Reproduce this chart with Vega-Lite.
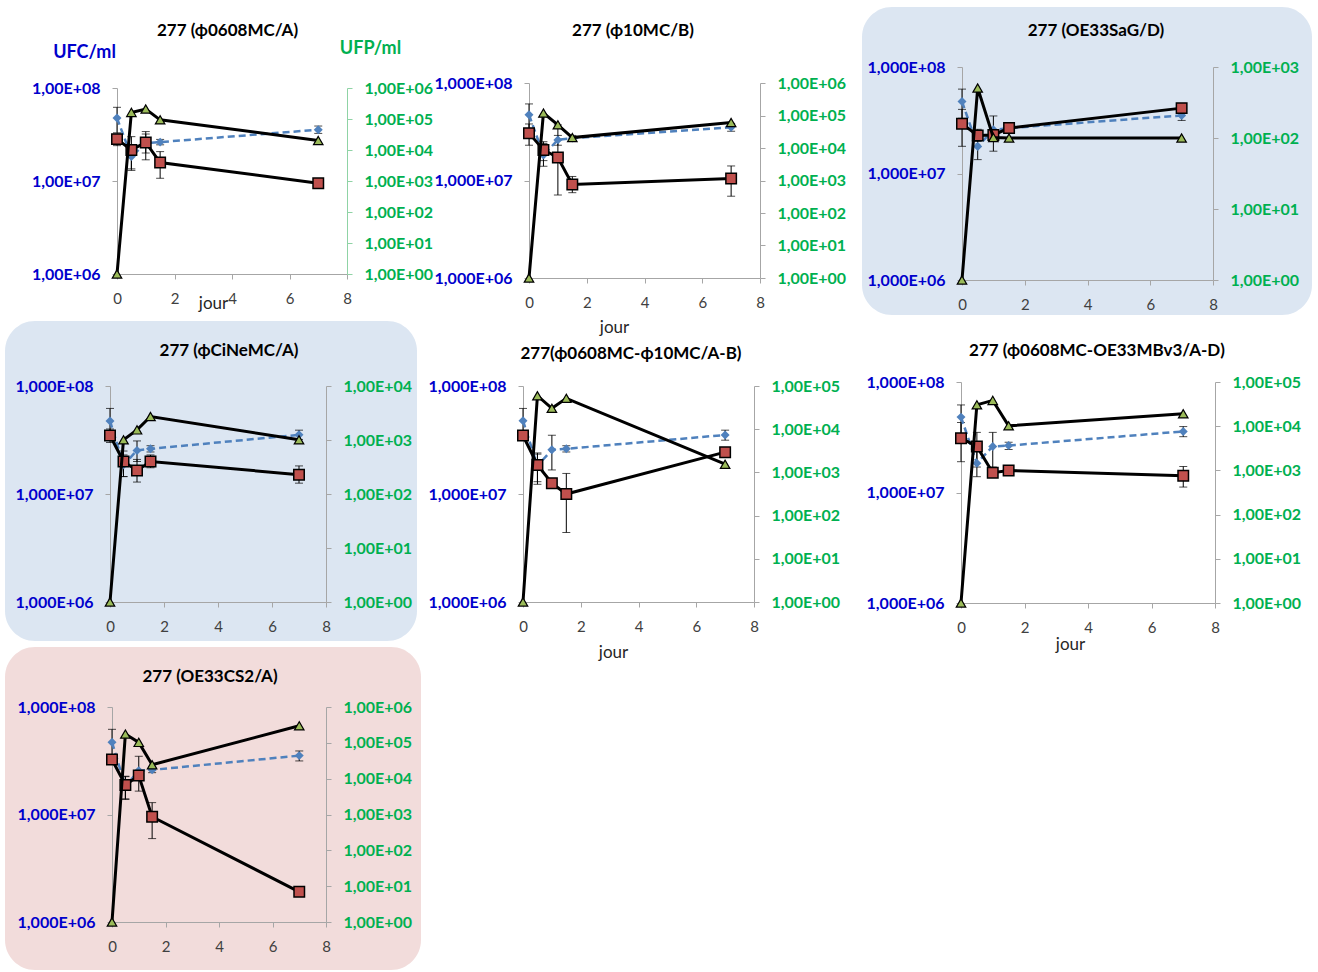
{
"$schema":"https://vega.github.io/schema/vega-lite/v6.json",
"padding":{"left":5,"top":7,"right":0,"bottom":0},
"datasets":{"d":[
{"p":1,"s":"b","x":0,"y":4.75e7,"lo":3.3e7,"hi":6.2e7},
{"p":1,"s":"b","x":0.5,"y":1.83e7,"lo":1.35e7,"hi":2.3e7},
{"p":1,"s":"b","x":1,"y":2.55e7,"lo":1.69e7,"hi":3.4e7},
{"p":1,"s":"b","x":1.5,"y":2.62e7,"lo":2.45e7,"hi":2.8e7},
{"p":1,"s":"b","x":7,"y":3.56e7,"lo":3.25e7,"hi":3.9e7},
{"p":1,"s":"r","x":0,"y":2.82e7,"lo":2.4e7,"hi":3.2e7},
{"p":1,"s":"r","x":0.5,"y":2.16e7,"lo":1.3e7,"hi":3.0e7},
{"p":1,"s":"r","x":1,"y":2.6e7,"lo":2.0e7,"hi":3.2e7},
{"p":1,"s":"r","x":1.5,"y":1.58e7,"lo":1.07e7,"hi":2.07e7},
{"p":1,"s":"r","x":7,"y":9.46e6,"lo":9.0e6,"hi":9.9e6},
{"p":1,"s":"g","x":0,"y":1},
{"p":1,"s":"g","x":0.5,"y":1.63e5},
{"p":1,"s":"g","x":1,"y":2.1e5},
{"p":1,"s":"g","x":1.5,"y":9.4e4},
{"p":1,"s":"g","x":7,"y":2.03e4},
{"p":2,"s":"b","x":0,"y":4.72e7,"lo":3.3e7,"hi":6.1e7},
{"p":2,"s":"b","x":0.5,"y":1.83e7,"lo":1.4e7,"hi":2.4e7},
{"p":2,"s":"b","x":1,"y":2.61e7,"lo":2.3e7,"hi":2.9e7},
{"p":2,"s":"b","x":1.5,"y":2.72e7,"lo":2.55e7,"hi":2.9e7},
{"p":2,"s":"b","x":7,"y":3.52e7,"lo":3.2e7,"hi":3.85e7},
{"p":2,"s":"r","x":0,"y":3.06e7,"lo":2.3e7,"hi":3.8e7},
{"p":2,"s":"r","x":0.5,"y":2.06e7,"lo":1.6e7,"hi":2.5e7},
{"p":2,"s":"r","x":1,"y":1.72e7,"lo":7.1e6,"hi":3.72e7},
{"p":2,"s":"r","x":1.5,"y":9.1e6,"lo":7.5e6,"hi":1.1e7},
{"p":2,"s":"r","x":7,"y":1.05e7,"lo":6.9e6,"hi":1.41e7},
{"p":2,"s":"g","x":0,"y":1},
{"p":2,"s":"g","x":0.5,"y":1.19e5},
{"p":2,"s":"g","x":1,"y":5.16e4},
{"p":2,"s":"g","x":1.5,"y":2.09e4},
{"p":2,"s":"g","x":7,"y":6.08e4},
{"p":3,"s":"b","x":0,"y":4.74e7,"lo":3.3e7,"hi":6.2e7},
{"p":3,"s":"b","x":0.5,"y":1.79e7,"lo":1.35e7,"hi":2.3e7},
{"p":3,"s":"b","x":1,"y":2.57e7,"lo":1.62e7,"hi":3.47e7},
{"p":3,"s":"b","x":1.5,"y":2.67e7,"lo":2.5e7,"hi":2.85e7},
{"p":3,"s":"b","x":7,"y":3.51e7,"lo":3.15e7,"hi":3.85e7},
{"p":3,"s":"r","x":0,"y":2.93e7,"lo":1.8e7,"hi":4.0e7},
{"p":3,"s":"r","x":0.5,"y":2.27e7,"lo":2.0e7,"hi":2.6e7},
{"p":3,"s":"r","x":1,"y":2.3e7,"lo":2.15e7,"hi":2.45e7},
{"p":3,"s":"r","x":1.5,"y":2.67e7,"lo":2.5e7,"hi":2.85e7},
{"p":3,"s":"r","x":7,"y":4.11e7,"lo":3.7e7,"hi":4.5e7},
{"p":3,"s":"g","x":0,"y":1},
{"p":3,"s":"g","x":0.5,"y":506},
{"p":3,"s":"g","x":1,"y":101.6},
{"p":3,"s":"g","x":1.5,"y":100},
{"p":3,"s":"g","x":7,"y":100},
{"p":4,"s":"b","x":0,"y":4.75e7,"lo":3.3e7,"hi":6.2e7},
{"p":4,"s":"b","x":0.5,"y":1.86e7,"lo":1.45e7,"hi":2.3e7},
{"p":4,"s":"b","x":1,"y":2.53e7,"lo":2.0e7,"hi":3.1e7},
{"p":4,"s":"b","x":1.5,"y":2.62e7,"lo":2.45e7,"hi":2.8e7},
{"p":4,"s":"b","x":7,"y":3.53e7,"lo":3.2e7,"hi":3.9e7},
{"p":4,"s":"r","x":0,"y":3.48e7,"lo":3.0e7,"hi":4.0e7},
{"p":4,"s":"r","x":0.5,"y":2.0e7,"lo":1.45e7,"hi":2.5e7},
{"p":4,"s":"r","x":1,"y":1.65e7,"lo":1.29e7,"hi":2.09e7},
{"p":4,"s":"r","x":1.5,"y":2.0e7,"lo":1.75e7,"hi":2.3e7},
{"p":4,"s":"r","x":7,"y":1.51e7,"lo":1.26e7,"hi":1.82e7},
{"p":4,"s":"g","x":0,"y":1},
{"p":4,"s":"g","x":0.5,"y":1007},
{"p":4,"s":"g","x":1,"y":1540},
{"p":4,"s":"g","x":1.5,"y":2722},
{"p":4,"s":"g","x":7,"y":1007},
{"p":5,"s":"b","x":0,"y":4.77e7,"lo":3.3e7,"hi":6.2e7},
{"p":5,"s":"b","x":0.5,"y":1.82e7,"lo":1.23e7,"hi":2.34e7},
{"p":5,"s":"b","x":1,"y":2.57e7,"lo":1.67e7,"hi":3.5e7},
{"p":5,"s":"b","x":1.5,"y":2.62e7,"lo":2.45e7,"hi":2.8e7},
{"p":5,"s":"b","x":7,"y":3.52e7,"lo":3.15e7,"hi":3.9e7},
{"p":5,"s":"r","x":0,"y":3.48e7,"lo":3.2e7,"hi":3.75e7},
{"p":5,"s":"r","x":0.5,"y":1.86e7,"lo":1.3e7,"hi":2.4e7},
{"p":5,"s":"r","x":1,"y":1.26e7,"lo":1.18e7,"hi":1.34e7},
{"p":5,"s":"r","x":1.5,"y":1.0e7,"lo":4.4e6,"hi":1.55e7},
{"p":5,"s":"r","x":7,"y":2.44e7,"lo":2.3e7,"hi":2.6e7},
{"p":5,"s":"g","x":0,"y":1},
{"p":5,"s":"g","x":0.5,"y":5.95e4},
{"p":5,"s":"g","x":1,"y":3.04e4},
{"p":5,"s":"g","x":1.5,"y":5.18e4},
{"p":5,"s":"g","x":7,"y":1546},
{"p":6,"s":"b","x":0,"y":4.81e7,"lo":3.4e7,"hi":6.2e7},
{"p":6,"s":"b","x":0.5,"y":1.84e7,"lo":1.39e7,"hi":2.43e7},
{"p":6,"s":"b","x":1,"y":2.61e7,"lo":1.7e7,"hi":3.5e7},
{"p":6,"s":"b","x":1.5,"y":2.66e7,"lo":2.45e7,"hi":2.85e7},
{"p":6,"s":"b","x":7,"y":3.57e7,"lo":3.2e7,"hi":3.95e7},
{"p":6,"s":"r","x":0,"y":3.1e7,"lo":1.9e7,"hi":4.3e7},
{"p":6,"s":"r","x":0.5,"y":2.61e7,"lo":1.7e7,"hi":3.5e7},
{"p":6,"s":"r","x":1,"y":1.51e7,"lo":1.42e7,"hi":1.6e7},
{"p":6,"s":"r","x":1.5,"y":1.58e7,"lo":1.5e7,"hi":1.66e7},
{"p":6,"s":"r","x":7,"y":1.42e7,"lo":1.12e7,"hi":1.72e7},
{"p":6,"s":"g","x":0,"y":1},
{"p":6,"s":"g","x":0.5,"y":3.05e4},
{"p":6,"s":"g","x":1,"y":3.83e4},
{"p":6,"s":"g","x":1.5,"y":1.02e4},
{"p":6,"s":"g","x":7,"y":1.91e4},
{"p":7,"s":"b","x":0,"y":4.7e7,"lo":3.3e7,"hi":6.2e7},
{"p":7,"s":"b","x":0.5,"y":1.83e7,"lo":1.4e7,"hi":2.25e7},
{"p":7,"s":"b","x":1,"y":2.56e7,"lo":1.65e7,"hi":3.48e7},
{"p":7,"s":"b","x":1.5,"y":2.6e7,"lo":2.45e7,"hi":2.75e7},
{"p":7,"s":"b","x":7,"y":3.53e7,"lo":3.15e7,"hi":3.9e7},
{"p":7,"s":"r","x":0,"y":3.24e7,"lo":3.0e7,"hi":3.5e7},
{"p":7,"s":"r","x":0.5,"y":1.88e7,"lo":1.38e7,"hi":2.27e7},
{"p":7,"s":"r","x":1,"y":2.3e7,"lo":2.15e7,"hi":2.45e7},
{"p":7,"s":"r","x":1.5,"y":9.53e6,"lo":5.97e6,"hi":1.29e7},
{"p":7,"s":"r","x":7,"y":1.91e6,"lo":1.85e6,"hi":1.97e6},
{"p":7,"s":"g","x":0,"y":1},
{"p":7,"s":"g","x":0.5,"y":1.76e5},
{"p":7,"s":"g","x":1,"y":1.03e5},
{"p":7,"s":"g","x":1.5,"y":2.45e4},
{"p":7,"s":"g","x":7,"y":2.99e5}
]},
"data":{"name":"d"},
"columns":3,
"align":"none",
"bounds":"flush",
"spacing":{"row":6,"column":4},
"concat":[
{
"width":419,"height":308,
"title":{"text":"277 (ϕ0608MC/A)","offset":-33,"dx":13},
"transform":[{"filter":"datum.p==1"}],
"layer":[
{"transform":[{"filter":"datum.s!='g'"}],
"encoding":{"x":{"field":"x","type":"quantitative","scale":{"domain":[0,8],"range":[112,342],"nice":false,"zero":false},"axis":{"offset":-41,"values":[0,2,4,6,8],"title":"jour","titleX":208,"titleY":29}},
"y":{"field":"y","type":"quantitative","scale":{"type":"log","domain":[1000000,100000000],"range":[267,81],"nice":false},"axis":{"orient":"left","offset":-112,"values":[1000000,10000000,100000000],"labelExpr":"'1,00E+0' + round(log(datum.value)/LN10)","title":"UFC/ml","titleAngle":0,"titleX":-33,"titleY":45,"titleAlign":"center","titleBaseline":"middle","titleColor":"#0000CC","titleFontSize":18,"titleFontWeight":"bold"}}},
"layer":[
{"mark":{"type":"errorbar","ticks":true,"size":8,"thickness":1,"color":"#000000"},"encoding":{"y":{"field":"lo","type":"quantitative","scale":{"type":"log","domain":[1000000,100000000],"range":[267,81],"nice":false},"axis":{"orient":"left","offset":-112,"values":[1000000,10000000,100000000],"labelExpr":"'1,00E+0' + round(log(datum.value)/LN10)","title":"UFC/ml","titleAngle":0,"titleX":-33,"titleY":45,"titleAlign":"center","titleBaseline":"middle","titleColor":"#0000CC","titleFontSize":18,"titleFontWeight":"bold"}},"y2":{"field":"hi"}}},
{"transform":[{"filter":"datum.s=='b'"}],"mark":{"type":"line","color":"#4F81BD","strokeWidth":2.5,"strokeDash":[7,4]}},
{"transform":[{"filter":"datum.s=='b'"}],"mark":{"type":"point","shape":"diamond","filled":true,"color":"#4F81BD","size":80,"opacity":1}},
{"transform":[{"filter":"datum.s=='r'"}],"mark":{"type":"line","color":"#000000","strokeWidth":3}},
{"transform":[{"filter":"datum.s=='r'"}],"mark":{"type":"point","shape":"square","filled":true,"fill":"#C0504D","stroke":"#000000","strokeWidth":1.5,"size":110,"opacity":1}}
]},
{"transform":[{"filter":"datum.s=='g'"}],
"encoding":{"x":{"field":"x","type":"quantitative","scale":{"domain":[0,8],"range":[112,342],"nice":false,"zero":false},"axis":{"offset":-41,"values":[0,2,4,6,8],"title":"jour","titleX":208,"titleY":29}},
"y":{"field":"y","type":"quantitative","scale":{"type":"log","domain":[1,1000000],"range":[267,81],"nice":false},"axis":{"orient":"right","offset":-77,"domainColor":"#8FD3A5","tickColor":"#8FD3A5","values":[1,10,100,1000,10000,100000,1000000],"labelExpr":"'1,00E+0' + round(log(datum.value)/LN10)","title":"UFP/ml","titleAngle":0,"titleX":23,"titleY":41,"titleAlign":"center","titleBaseline":"middle","titleColor":"#00B050","titleFontSize":18,"titleFontWeight":"bold"}}},
"layer":[
{"mark":{"type":"line","color":"#000000","strokeWidth":3}},
{"mark":{"type":"point","shape":"triangle-up","filled":true,"fill":"#9BBB59","stroke":"#000000","strokeWidth":1.2,"size":90,"opacity":1}}
]}
],
"resolve":{"scale":{"y":"independent"},"axis":{"y":"independent"}}
},
{
"width":430,"height":308,
"title":{"text":"277 (ϕ10MC/B)","offset":-33,"dx":-10},
"transform":[{"filter":"datum.p==2"}],
"layer":[
{"transform":[{"filter":"datum.s!='g'"}],
"encoding":{"x":{"field":"x","type":"quantitative","scale":{"domain":[0,8],"range":[101,332],"nice":false,"zero":false},"axis":{"offset":-37,"values":[0,2,4,6,8],"title":"jour","titleX":186,"titleY":49}},
"y":{"field":"y","type":"quantitative","scale":{"type":"log","domain":[1000000,100000000],"range":[271,76],"nice":false},"axis":{"orient":"left","offset":-101,"values":[1000000,10000000,100000000],"labelExpr":"'1,000E+0' + round(log(datum.value)/LN10)","title":null}}},
"layer":[
{"mark":{"type":"errorbar","ticks":true,"size":8,"thickness":1,"color":"#000000"},"encoding":{"y":{"field":"lo","type":"quantitative","scale":{"type":"log","domain":[1000000,100000000],"range":[271,76],"nice":false},"axis":{"orient":"left","offset":-101,"values":[1000000,10000000,100000000],"labelExpr":"'1,000E+0' + round(log(datum.value)/LN10)","title":null}},"y2":{"field":"hi"}}},
{"transform":[{"filter":"datum.s=='b'"}],"mark":{"type":"line","color":"#4F81BD","strokeWidth":2.5,"strokeDash":[7,4]}},
{"transform":[{"filter":"datum.s=='b'"}],"mark":{"type":"point","shape":"diamond","filled":true,"color":"#4F81BD","size":80,"opacity":1}},
{"transform":[{"filter":"datum.s=='r'"}],"mark":{"type":"line","color":"#000000","strokeWidth":3}},
{"transform":[{"filter":"datum.s=='r'"}],"mark":{"type":"point","shape":"square","filled":true,"fill":"#C0504D","stroke":"#000000","strokeWidth":1.5,"size":110,"opacity":1}}
]},
{"transform":[{"filter":"datum.s=='g'"}],
"encoding":{"x":{"field":"x","type":"quantitative","scale":{"domain":[0,8],"range":[101,332],"nice":false,"zero":false},"axis":{"offset":-37,"values":[0,2,4,6,8],"title":"jour","titleX":186,"titleY":49}},
"y":{"field":"y","type":"quantitative","scale":{"type":"log","domain":[1,1000000],"range":[271,76],"nice":false},"axis":{"orient":"right","offset":-98,"values":[1,10,100,1000,10000,100000,1000000],"labelExpr":"'1,00E+0' + round(log(datum.value)/LN10)","title":null}}},
"layer":[
{"mark":{"type":"line","color":"#000000","strokeWidth":3}},
{"mark":{"type":"point","shape":"triangle-up","filled":true,"fill":"#9BBB59","stroke":"#000000","strokeWidth":1.2,"size":90,"opacity":1}}
]}
],
"resolve":{"scale":{"y":"independent"},"axis":{"y":"independent"}}
},
{
"width":450,"height":308,
"view":{"fill":"#DCE6F2","cornerRadius":30},
"title":{"text":"277 (OE33SaG/D)","offset":-33,"dx":9},
"transform":[{"filter":"datum.p==3"}],
"layer":[
{"transform":[{"filter":"datum.s!='g'"}],
"encoding":{"x":{"field":"x","type":"quantitative","scale":{"domain":[0,8],"range":[100,351],"nice":false,"zero":false},"axis":{"offset":-35,"values":[0,2,4,6,8],"title":null}},
"y":{"field":"y","type":"quantitative","scale":{"type":"log","domain":[1000000,100000000],"range":[273,60],"nice":false},"axis":{"orient":"left","offset":-100,"values":[1000000,10000000,100000000],"labelExpr":"'1,000E+0' + round(log(datum.value)/LN10)","title":null}}},
"layer":[
{"mark":{"type":"errorbar","ticks":true,"size":8,"thickness":1,"color":"#000000"},"encoding":{"y":{"field":"lo","type":"quantitative","scale":{"type":"log","domain":[1000000,100000000],"range":[273,60],"nice":false},"axis":{"orient":"left","offset":-100,"values":[1000000,10000000,100000000],"labelExpr":"'1,000E+0' + round(log(datum.value)/LN10)","title":null}},"y2":{"field":"hi"}}},
{"transform":[{"filter":"datum.s=='b'"}],"mark":{"type":"line","color":"#4F81BD","strokeWidth":2.5,"strokeDash":[7,4]}},
{"transform":[{"filter":"datum.s=='b'"}],"mark":{"type":"point","shape":"diamond","filled":true,"color":"#4F81BD","size":80,"opacity":1}},
{"transform":[{"filter":"datum.s=='r'"}],"mark":{"type":"line","color":"#000000","strokeWidth":3}},
{"transform":[{"filter":"datum.s=='r'"}],"mark":{"type":"point","shape":"square","filled":true,"fill":"#C0504D","stroke":"#000000","strokeWidth":1.5,"size":110,"opacity":1}}
]},
{"transform":[{"filter":"datum.s=='g'"}],
"encoding":{"x":{"field":"x","type":"quantitative","scale":{"domain":[0,8],"range":[100,351],"nice":false,"zero":false},"axis":{"offset":-35,"values":[0,2,4,6,8],"title":null}},
"y":{"field":"y","type":"quantitative","scale":{"type":"log","domain":[1,1000],"range":[273,60],"nice":false},"axis":{"orient":"right","offset":-99,"values":[1,10,100,1000],"labelExpr":"'1,00E+0' + round(log(datum.value)/LN10)","title":null}}},
"layer":[
{"mark":{"type":"line","color":"#000000","strokeWidth":3}},
{"mark":{"type":"point","shape":"triangle-up","filled":true,"fill":"#9BBB59","stroke":"#000000","strokeWidth":1.2,"size":90,"opacity":1}}
]}
],
"resolve":{"scale":{"y":"independent"},"axis":{"y":"independent"}}
},
{
"width":412,"height":320,
"view":{"fill":"#DCE6F2","cornerRadius":30},
"title":{"text":"277 (ϕCiNeMC/A)","offset":-39,"dx":18},
"transform":[{"filter":"datum.p==4"}],
"layer":[
{"transform":[{"filter":"datum.s!='g'"}],
"encoding":{"x":{"field":"x","type":"quantitative","scale":{"domain":[0,8],"range":[105,321],"nice":false,"zero":false},"axis":{"offset":-39,"values":[0,2,4,6,8],"title":null}},
"y":{"field":"y","type":"quantitative","scale":{"type":"log","domain":[1000000,100000000],"range":[281,65],"nice":false},"axis":{"orient":"left","offset":-105,"values":[1000000,10000000,100000000],"labelExpr":"'1,000E+0' + round(log(datum.value)/LN10)","title":null}}},
"layer":[
{"mark":{"type":"errorbar","ticks":true,"size":8,"thickness":1,"color":"#000000"},"encoding":{"y":{"field":"lo","type":"quantitative","scale":{"type":"log","domain":[1000000,100000000],"range":[281,65],"nice":false},"axis":{"orient":"left","offset":-105,"values":[1000000,10000000,100000000],"labelExpr":"'1,000E+0' + round(log(datum.value)/LN10)","title":null}},"y2":{"field":"hi"}}},
{"transform":[{"filter":"datum.s=='b'"}],"mark":{"type":"line","color":"#4F81BD","strokeWidth":2.5,"strokeDash":[7,4]}},
{"transform":[{"filter":"datum.s=='b'"}],"mark":{"type":"point","shape":"diamond","filled":true,"color":"#4F81BD","size":80,"opacity":1}},
{"transform":[{"filter":"datum.s=='r'"}],"mark":{"type":"line","color":"#000000","strokeWidth":3}},
{"transform":[{"filter":"datum.s=='r'"}],"mark":{"type":"point","shape":"square","filled":true,"fill":"#C0504D","stroke":"#000000","strokeWidth":1.5,"size":110,"opacity":1}}
]},
{"transform":[{"filter":"datum.s=='g'"}],
"encoding":{"x":{"field":"x","type":"quantitative","scale":{"domain":[0,8],"range":[105,321],"nice":false,"zero":false},"axis":{"offset":-39,"values":[0,2,4,6,8],"title":null}},
"y":{"field":"y","type":"quantitative","scale":{"type":"log","domain":[1,10000],"range":[281,65],"nice":false},"axis":{"orient":"right","offset":-91,"values":[1,10,100,1000,10000],"labelExpr":"'1,00E+0' + round(log(datum.value)/LN10)","title":null}}},
"layer":[
{"mark":{"type":"line","color":"#000000","strokeWidth":3}},
{"mark":{"type":"point","shape":"triangle-up","filled":true,"fill":"#9BBB59","stroke":"#000000","strokeWidth":1.2,"size":90,"opacity":1}}
]}
],
"resolve":{"scale":{"y":"independent"},"axis":{"y":"independent"}}
},
{
"width":430,"height":320,
"title":{"text":"277(ϕ0608MC-ϕ10MC/A-B)","offset":-42,"dx":-12},
"transform":[{"filter":"datum.p==5"}],
"layer":[
{"transform":[{"filter":"datum.s!='g'"}],
"encoding":{"x":{"field":"x","type":"quantitative","scale":{"domain":[0,8],"range":[95,326],"nice":false,"zero":false},"axis":{"offset":-39,"values":[0,2,4,6,8],"title":"jour","titleX":185,"titleY":50}},
"y":{"field":"y","type":"quantitative","scale":{"type":"log","domain":[1000000,100000000],"range":[281,65],"nice":false},"axis":{"orient":"left","offset":-95,"values":[1000000,10000000,100000000],"labelExpr":"'1,000E+0' + round(log(datum.value)/LN10)","title":null}}},
"layer":[
{"mark":{"type":"errorbar","ticks":true,"size":8,"thickness":1,"color":"#000000"},"encoding":{"y":{"field":"lo","type":"quantitative","scale":{"type":"log","domain":[1000000,100000000],"range":[281,65],"nice":false},"axis":{"orient":"left","offset":-95,"values":[1000000,10000000,100000000],"labelExpr":"'1,000E+0' + round(log(datum.value)/LN10)","title":null}},"y2":{"field":"hi"}}},
{"transform":[{"filter":"datum.s=='b'"}],"mark":{"type":"line","color":"#4F81BD","strokeWidth":2.5,"strokeDash":[7,4]}},
{"transform":[{"filter":"datum.s=='b'"}],"mark":{"type":"point","shape":"diamond","filled":true,"color":"#4F81BD","size":80,"opacity":1}},
{"transform":[{"filter":"datum.s=='r'"}],"mark":{"type":"line","color":"#000000","strokeWidth":3}},
{"transform":[{"filter":"datum.s=='r'"}],"mark":{"type":"point","shape":"square","filled":true,"fill":"#C0504D","stroke":"#000000","strokeWidth":1.5,"size":110,"opacity":1}}
]},
{"transform":[{"filter":"datum.s=='g'"}],
"encoding":{"x":{"field":"x","type":"quantitative","scale":{"domain":[0,8],"range":[95,326],"nice":false,"zero":false},"axis":{"offset":-39,"values":[0,2,4,6,8],"title":"jour","titleX":185,"titleY":50}},
"y":{"field":"y","type":"quantitative","scale":{"type":"log","domain":[1,100000],"range":[281,65],"nice":false},"axis":{"orient":"right","offset":-104,"values":[1,10,100,1000,10000,100000],"labelExpr":"'1,00E+0' + round(log(datum.value)/LN10)","title":null}}},
"layer":[
{"mark":{"type":"line","color":"#000000","strokeWidth":3}},
{"mark":{"type":"point","shape":"triangle-up","filled":true,"fill":"#9BBB59","stroke":"#000000","strokeWidth":1.2,"size":90,"opacity":1}}
]}
],
"resolve":{"scale":{"y":"independent"},"axis":{"y":"independent"}}
},
{
"width":450,"height":320,
"title":{"text":"277 (ϕ0608MC-OE33MBv3/A-D)","offset":-39,"dx":10},
"transform":[{"filter":"datum.p==6"}],
"layer":[
{"transform":[{"filter":"datum.s!='g'"}],
"encoding":{"x":{"field":"x","type":"quantitative","scale":{"domain":[0,8],"range":[99,353],"nice":false,"zero":false},"axis":{"offset":-38,"values":[0,2,4,6,8],"title":"jour","titleX":208,"titleY":41}},
"y":{"field":"y","type":"quantitative","scale":{"type":"log","domain":[1000000,100000000],"range":[282,61],"nice":false},"axis":{"orient":"left","offset":-99,"values":[1000000,10000000,100000000],"labelExpr":"'1,000E+0' + round(log(datum.value)/LN10)","title":null}}},
"layer":[
{"mark":{"type":"errorbar","ticks":true,"size":8,"thickness":1,"color":"#000000"},"encoding":{"y":{"field":"lo","type":"quantitative","scale":{"type":"log","domain":[1000000,100000000],"range":[282,61],"nice":false},"axis":{"orient":"left","offset":-99,"values":[1000000,10000000,100000000],"labelExpr":"'1,000E+0' + round(log(datum.value)/LN10)","title":null}},"y2":{"field":"hi"}}},
{"transform":[{"filter":"datum.s=='b'"}],"mark":{"type":"line","color":"#4F81BD","strokeWidth":2.5,"strokeDash":[7,4]}},
{"transform":[{"filter":"datum.s=='b'"}],"mark":{"type":"point","shape":"diamond","filled":true,"color":"#4F81BD","size":80,"opacity":1}},
{"transform":[{"filter":"datum.s=='r'"}],"mark":{"type":"line","color":"#000000","strokeWidth":3}},
{"transform":[{"filter":"datum.s=='r'"}],"mark":{"type":"point","shape":"square","filled":true,"fill":"#C0504D","stroke":"#000000","strokeWidth":1.5,"size":110,"opacity":1}}
]},
{"transform":[{"filter":"datum.s=='g'"}],
"encoding":{"x":{"field":"x","type":"quantitative","scale":{"domain":[0,8],"range":[99,353],"nice":false,"zero":false},"axis":{"offset":-38,"values":[0,2,4,6,8],"title":"jour","titleX":208,"titleY":41}},
"y":{"field":"y","type":"quantitative","scale":{"type":"log","domain":[1,100000],"range":[282,61],"nice":false},"axis":{"orient":"right","offset":-97,"values":[1,10,100,1000,10000,100000],"labelExpr":"'1,00E+0' + round(log(datum.value)/LN10)","title":null}}},
"layer":[
{"mark":{"type":"line","color":"#000000","strokeWidth":3}},
{"mark":{"type":"point","shape":"triangle-up","filled":true,"fill":"#9BBB59","stroke":"#000000","strokeWidth":1.2,"size":90,"opacity":1}}
]}
],
"resolve":{"scale":{"y":"independent"},"axis":{"y":"independent"}}
},
{
"width":416,"height":323,
"view":{"fill":"#F2DCDB","cornerRadius":30},
"title":{"text":"277 (OE33CS2/A)","offset":-39,"dx":-3},
"transform":[{"filter":"datum.p==7"}],
"layer":[
{"transform":[{"filter":"datum.s!='g'"}],
"encoding":{"x":{"field":"x","type":"quantitative","scale":{"domain":[0,8],"range":[107,321],"nice":false,"zero":false},"axis":{"offset":-48,"values":[0,2,4,6,8],"title":null}},
"y":{"field":"y","type":"quantitative","scale":{"type":"log","domain":[1000000,100000000],"range":[275,60],"nice":false},"axis":{"orient":"left","offset":-107,"values":[1000000,10000000,100000000],"labelExpr":"'1,000E+0' + round(log(datum.value)/LN10)","title":null}}},
"layer":[
{"mark":{"type":"errorbar","ticks":true,"size":8,"thickness":1,"color":"#000000"},"encoding":{"y":{"field":"lo","type":"quantitative","scale":{"type":"log","domain":[1000000,100000000],"range":[275,60],"nice":false},"axis":{"orient":"left","offset":-107,"values":[1000000,10000000,100000000],"labelExpr":"'1,000E+0' + round(log(datum.value)/LN10)","title":null}},"y2":{"field":"hi"}}},
{"transform":[{"filter":"datum.s=='b'"}],"mark":{"type":"line","color":"#4F81BD","strokeWidth":2.5,"strokeDash":[7,4]}},
{"transform":[{"filter":"datum.s=='b'"}],"mark":{"type":"point","shape":"diamond","filled":true,"color":"#4F81BD","size":80,"opacity":1}},
{"transform":[{"filter":"datum.s=='r'"}],"mark":{"type":"line","color":"#000000","strokeWidth":3}},
{"transform":[{"filter":"datum.s=='r'"}],"mark":{"type":"point","shape":"square","filled":true,"fill":"#C0504D","stroke":"#000000","strokeWidth":1.5,"size":110,"opacity":1}}
]},
{"transform":[{"filter":"datum.s=='g'"}],
"encoding":{"x":{"field":"x","type":"quantitative","scale":{"domain":[0,8],"range":[107,321],"nice":false,"zero":false},"axis":{"offset":-48,"values":[0,2,4,6,8],"title":null}},
"y":{"field":"y","type":"quantitative","scale":{"type":"log","domain":[1,1000000],"range":[275,60],"nice":false},"axis":{"orient":"right","offset":-95,"values":[1,10,100,1000,10000,100000,1000000],"labelExpr":"'1,00E+0' + round(log(datum.value)/LN10)","title":null}}},
"layer":[
{"mark":{"type":"line","color":"#000000","strokeWidth":3}},
{"mark":{"type":"point","shape":"triangle-up","filled":true,"fill":"#9BBB59","stroke":"#000000","strokeWidth":1.2,"size":90,"opacity":1}}
]}
],
"resolve":{"scale":{"y":"independent"},"axis":{"y":"independent"}}
}
],
"config":{
"view":{"stroke":null},
"font":"Lato",
"axis":{"domainColor":"#A6A6A6","tickColor":"#A6A6A6","tickSize":5,"grid":false,"labelFont":"Lato","titleFont":"Lato","labelOverlap":false,"labelFlush":false,"labelBound":false},
"axisX":{"labelFontSize":15,"labelColor":"#404040","labelPadding":12,"titleFontSize":17,"titleFontWeight":"normal","titleColor":"#262626","titleAlign":"center","titleBaseline":"middle"},
"axisLeft":{"labelColor":"#0000CC","labelFontWeight":"bold","labelFontSize":16,"labelPadding":12},
"axisRight":{"labelColor":"#00B050","labelFontWeight":"bold","labelFontSize":16,"labelPadding":12},
"title":{"font":"Lato","fontSize":17,"fontWeight":"bold","color":"#000000","anchor":"middle","frame":"group","baseline":"middle"}
}
}
